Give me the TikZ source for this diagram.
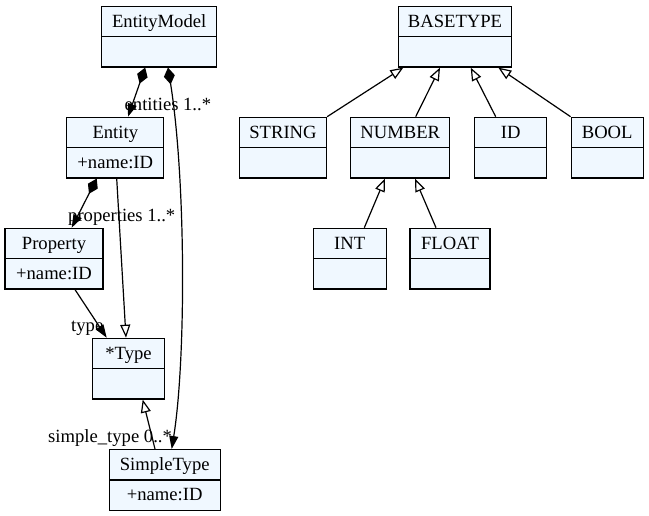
\documentclass[tikz,border=0pt]{standalone}
\usepackage{fontspec}
\setmainfont{Liberation Serif}
\usetikzlibrary{arrows.meta,shapes.multipart}
\definecolor{clsfill}{HTML}{F0F8FF}
\newcommand\rowstrut{\rule[-8.8bp]{0pt}{29bp}}

\begin{document}
\begin{tikzpicture}[x=1bp, y=-1bp, every node/.style={font=\fontsize{18.7}{22}\selectfont},
	cls/.style={rectangle split, rectangle split parts=2, draw, fill=clsfill, line width=1.3bp, inner xsep=0pt, inner ysep=0pt, anchor=north},
	lbl/.style={anchor=base west, inner sep=0pt},
	comp/.style={line width=1.2bp, {Diamond[length=17bp,width=11bp]}-{Triangle[length=13bp,width=9bp]}},
	assoc/.style={line width=1.2bp, -{Triangle[length=13bp,width=9bp]}},
	inh/.style={line width=1.2bp, -{Triangle[open,length=13bp,width=10bp,fill=white]}}]
	\useasboundingbox (0,0) rectangle (649,516);
	\node[cls, minimum width=115bp] (entitymodel) at (159.2,5.7) {\rowstrut EntityModel\nodepart{two}\rowstrut};
	\node[cls, minimum width=97bp] (entity) at (115.3,116.7) {\rowstrut Entity\nodepart{two}\rowstrut+name:ID};
	\node[cls, minimum width=98bp] (property) at (54,227.7) {\rowstrut Property\nodepart{two}\rowstrut+name:ID};
	\node[cls, minimum width=72bp] (type) at (128.5,337.7) {\rowstrut *Type\nodepart{two}\rowstrut};
	\node[cls, minimum width=111bp] (simpletype) at (164.7,449) {\rowstrut SimpleType\nodepart{two}\rowstrut+name:ID};
	\node[cls, minimum width=113bp] (basetype) at (455,5.7) {\rowstrut BASETYPE\nodepart{two}\rowstrut};
	\node[cls, minimum width=87bp] (string) at (283,116.7) {\rowstrut STRING\nodepart{two}\rowstrut};
	\node[cls, minimum width=99bp] (number) at (400.3,116.7) {\rowstrut NUMBER\nodepart{two}\rowstrut};
	\node[cls, minimum width=72bp] (id) at (510.8,116.7) {\rowstrut ID\nodepart{two}\rowstrut};
	\node[cls, minimum width=72bp] (bool) at (607.2,116.7) {\rowstrut BOOL\nodepart{two}\rowstrut};
	\node[cls, minimum width=73bp] (int) at (349.7,227.7) {\rowstrut INT\nodepart{two}\rowstrut};
	\node[cls, minimum width=80bp] (float) at (450,227.7) {\rowstrut FLOAT\nodepart{two}\rowstrut};

	\node[lbl] (entitieslbl) at (124.5,111) {entities 1..*};
	\node[lbl] (propertieslbl) at (68,222) {properties 1..*};
	\node[lbl] (typelbl) at (71,331) {type};
	\node[lbl] (simpletypelbl) at (48,442) {simple\_type 0..*};

	\draw[comp] ([xshift=-14bp]entitymodel.south) -- ([xshift=12.7bp]entity.north);
	\draw[comp] ([xshift=8.8bp]entitymodel.south) .. controls (186,180) and (186,360) .. ([xshift=7bp]simpletype.north);
	\draw[comp] ([xshift=-18.6bp]entity.south) -- ([xshift=17.7bp]property.north);
	\draw[inh] ([xshift=1.4bp]entity.south) -- ([xshift=-2.5bp]type.north);
	\draw[assoc] ([xshift=21bp]property.south) -- ([xshift=-21.8bp]type.north);
	\draw[inh] ([xshift=-9.7bp]simpletype.north) -- ([xshift=14.2bp]type.south);

	\draw[inh] (string.north east) -- ([xshift=-51.7bp]basetype.south);
	\draw[inh] ([xshift=15.4bp]number.north) -- ([xshift=-15bp]basetype.south);
	\draw[inh] ([xshift=-15.1bp]id.north) -- ([xshift=15.7bp]basetype.south);
	\draw[inh] (bool.north west) -- ([xshift=43.3bp]basetype.south);
	\draw[inh] ([xshift=14.6bp]int.north) -- ([xshift=-15.3bp]number.south);
	\draw[inh] ([xshift=-14bp]float.north) -- ([xshift=14.7bp]number.south);
\end{tikzpicture}
\end{document}
